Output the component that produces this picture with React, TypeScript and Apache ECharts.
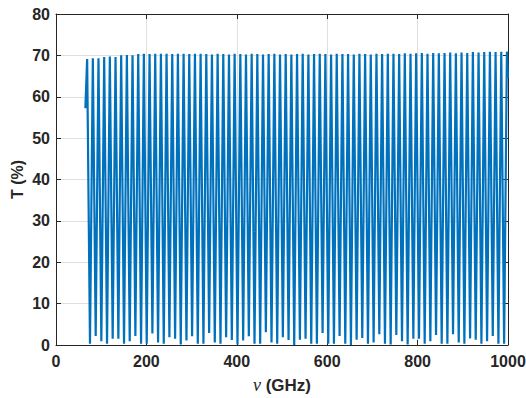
import React, { useEffect, useRef } from "react";
import * as echarts from "echarts";

// Axis ticks
const xTickMin = 0;
const xTickMax = 1000;
const xTickStep = 200;
const yTickMin = 0;
const yTickMax = 80;
const yTickStep = 10;

// Start and end samples of the spectrum (GHz, %)
const startPoint = [65.0, 57.2];
const endPoint = [1000.0, 64.5];

// Transmission maxima: frequencies (GHz) and values (%)
const peakGHz = [
  68.9, 81.5, 94.0, 106.6, 119.1, 131.7, 144.2, 156.8, 169.3, 181.9,
  194.4, 207.0, 219.5, 232.1, 244.6, 257.2, 269.7, 282.3, 294.8, 307.4,
  319.9, 332.5, 345.0, 357.6, 370.1, 382.7, 395.2, 407.8, 420.3, 432.9,
  445.4, 458.0, 470.5, 483.1, 495.6, 508.2, 520.7, 533.3, 545.8, 558.4,
  570.9, 583.5, 596.0, 608.6, 621.1, 633.7, 646.2, 658.8, 671.3, 683.9,
  696.4, 709.0, 721.5, 734.1, 746.6, 759.2, 771.7, 784.3, 796.8, 809.4,
  821.9, 834.5, 847.0, 859.6, 872.1, 884.7, 897.2, 909.8, 922.3, 934.9,
  947.4, 960.0, 972.5, 985.1, 997.6,
];
const peakT = [
  69.1, 69.3, 69.3, 69.6, 69.7, 69.6, 70.0, 70.1, 70.0, 70.3,
  70.4, 70.3, 70.4, 70.4, 70.4, 70.3, 70.4, 70.4, 70.3, 70.4,
  70.4, 70.3, 70.2, 70.4, 70.3, 70.2, 70.4, 70.3, 70.2, 70.4,
  70.3, 70.2, 70.3, 70.4, 70.2, 70.3, 70.2, 70.3, 70.4, 70.2,
  70.3, 70.4, 70.3, 70.2, 70.4, 70.3, 70.3, 70.2, 70.4, 70.3,
  70.2, 70.4, 70.3, 70.4, 70.4, 70.3, 70.5, 70.4, 70.5, 70.6,
  70.4, 70.6, 70.5, 70.6, 70.7, 70.5, 70.7, 70.6, 70.8, 70.7,
  70.8, 70.9, 70.8, 70.9, 70.9,
];

// Transmission minima: frequencies (GHz) and values (%)
const dipGHz = [
  75.2, 87.8, 100.3, 112.9, 125.4, 138.0, 150.5, 163.1, 175.6, 188.2,
  200.7, 213.3, 225.8, 238.4, 250.9, 263.5, 276.0, 288.6, 301.1, 313.7,
  326.2, 338.8, 351.3, 363.9, 376.4, 389.0, 401.5, 414.1, 426.6, 439.2,
  451.7, 464.3, 476.8, 489.4, 501.9, 514.5, 527.0, 539.6, 552.1, 564.7,
  577.2, 589.8, 602.3, 614.9, 627.4, 640.0, 652.5, 665.1, 677.6, 690.2,
  702.7, 715.3, 727.8, 740.4, 752.9, 765.5, 778.0, 790.6, 803.1, 815.7,
  828.2, 840.8, 853.3, 865.9, 878.4, 891.0, 903.5, 916.1, 928.6, 941.2,
  953.7, 966.3, 978.8, 991.4,
];
const dipT = [
  0.3, 2.2, 0.9, 0.3, 1.5, 1.5, 0.3, 0.9, 2.2, 0.3, 0.3, 2.8, 0.6, 0.3,
  1.9, 1.5, 0.1, 1.1, 2.1, 0.3, 0.3, 2.9, 0.6, 0.3, 1.9, 1.2, 0.1, 1.1, 2.1,
  0.3, 0.3, 3.1, 0.6, 0.3, 1.9, 1.2, 0.0, 1.3, 1.5, 0.3, 0.3, 2.9, 0.3, 0.3, 2.2,
  0.3, 0.0, 1.3, 1.7, 0.3, 0.6, 2.6, 0.3, 0.1, 2.4, 0.9, 0.1, 1.5, 1.5, 0.3,
  0.9, 2.4, 0.3, 0.3, 2.6, 0.6, 0.3, 1.6, 1.3, 0.3, 0.9, 2.2, 0.3, 0.3,
];

const FONT = "'Liberation Sans', Arial, Helvetica, sans-serif";
const AXIS_COLOR = "#262626";
const GRID_COLOR = "#dfdfdf";
const LINE_COLOR = "#0072BD";

export default function App() {
  const ref = useRef<HTMLDivElement>(null);

  useEffect(() => {
    if (!ref.current) return;
    const chart = echarts.init(ref.current, undefined, { renderer: "svg" });

    const data: number[][] = [startPoint];
    for (let k = 0; k < peakGHz.length; k++) {
      data.push([peakGHz[k], peakT[k]]);
      if (k < dipGHz.length) data.push([dipGHz[k], dipT[k]]);
    }
    data.push(endPoint);

    const mainLabel = {
      fontFamily: FONT,
      fontWeight: "bold" as const,
      fontSize: 16,
      color: AXIS_COLOR,
      formatter: (v: number) => String(v),
    };
    const axisLine = { show: true, onZero: false, lineStyle: { color: AXIS_COLOR, width: 1 } };
    const tick = { show: true, inside: true, length: 5, lineStyle: { color: AXIS_COLOR, width: 1 } };

    chart.setOption({
      animation: false,
      backgroundColor: "#ffffff",
      grid: {
        left: 56,
        right: 18,
        top: 14,
        bottom: 53,
        containLabel: false,
        outerBoundsMode: "none",
      },
      xAxis: [
        {
          type: "value",
          min: xTickMin,
          max: xTickMax,
          interval: xTickStep,
          position: "bottom",
          axisLine,
          axisTick: tick,
          axisLabel: { ...mainLabel, margin: 8 },
          splitLine: { show: true, lineStyle: { color: GRID_COLOR, width: 1 } },
        },
        {
          type: "value",
          min: xTickMin,
          max: xTickMax,
          interval: xTickStep,
          position: "top",
          axisLine,
          axisTick: tick,
          axisLabel: { show: false },
          splitLine: { show: false },
        },
      ],
      yAxis: [
        {
          type: "value",
          min: yTickMin,
          max: yTickMax,
          interval: yTickStep,
          position: "left",
          axisLine,
          axisTick: tick,
          axisLabel: { ...mainLabel, margin: 6 },
          splitLine: { show: true, lineStyle: { color: GRID_COLOR, width: 1 } },
        },
        {
          type: "value",
          min: yTickMin,
          max: yTickMax,
          interval: yTickStep,
          position: "right",
          axisLine,
          axisTick: tick,
          axisLabel: { show: false },
          splitLine: { show: false },
        },
      ],
      series: [
        {
          type: "line",
          xAxisIndex: 0,
          yAxisIndex: 0,
          data,
          showSymbol: false,
          symbol: "none",
          clip: true,
          lineStyle: { color: LINE_COLOR, width: 2.2 },
          itemStyle: { color: LINE_COLOR },
        },
      ],
      graphic: [
        {
          type: "text",
          x: 17,
          y: 179.5,
          rotation: Math.PI / 2,
          style: {
            text: "T (%)",
            font: `bold 16px ${FONT}`,
            fill: AXIS_COLOR,
            textAlign: "center",
            textVerticalAlign: "middle",
          },
        },
        {
          type: "text",
          x: 282,
          y: 385,
          style: {
            text: "{i|ν} (GHz)",
            font: `bold 17px ${FONT}`,
            fill: AXIS_COLOR,
            textAlign: "center",
            textVerticalAlign: "middle",
            rich: {
              i: {
                fontFamily: "'Liberation Serif', 'DejaVu Serif', serif",
                fontStyle: "italic",
                fontWeight: "normal",
                fontSize: 18,
                fill: AXIS_COLOR,
              },
            },
          },
        },
      ],
    });

    return () => chart.dispose();
  }, []);

  return (
    <div
      ref={ref}
      style={{ position: "fixed", left: 0, top: 0, width: 526, height: 398 }}
    />
  );
}
